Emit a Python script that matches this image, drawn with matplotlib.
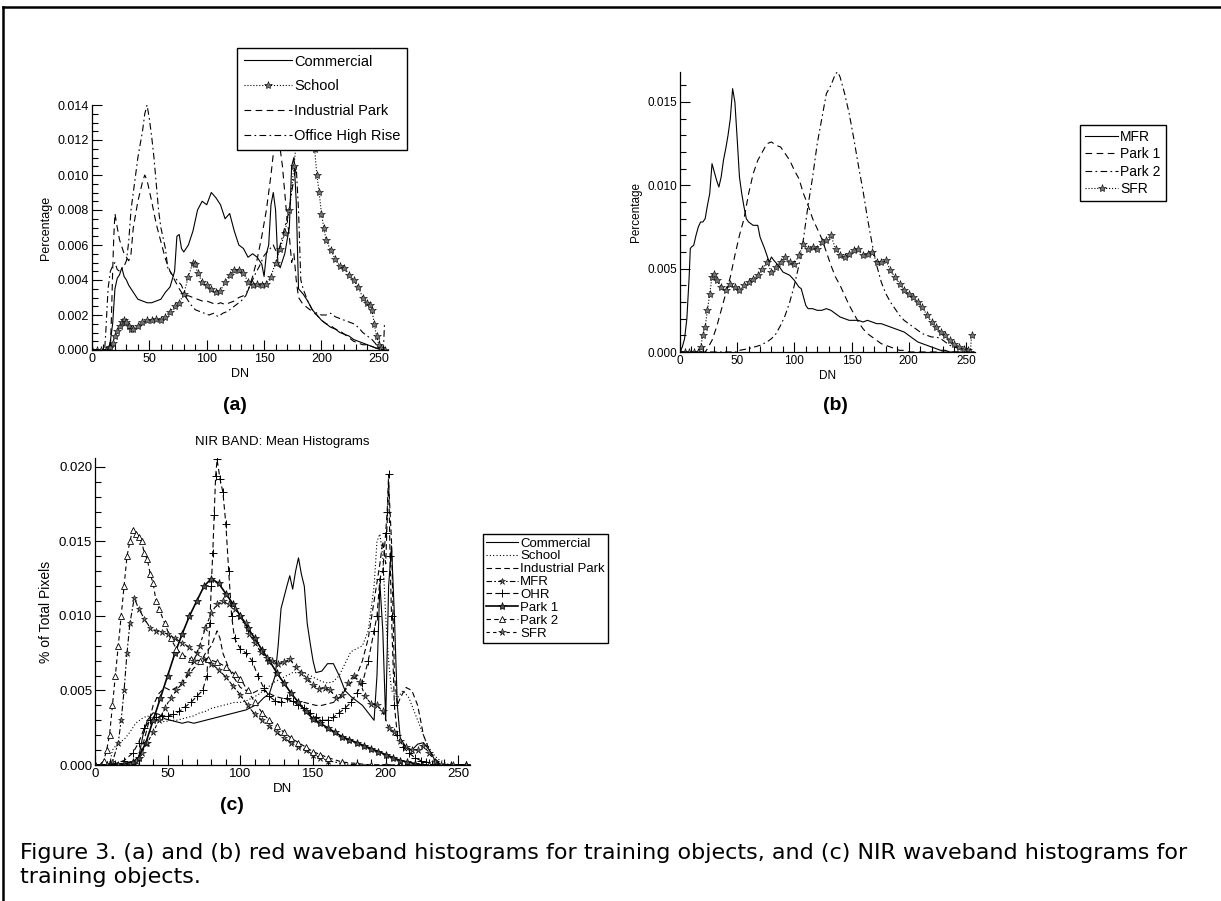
import numpy as np
import matplotlib.pyplot as plt
from matplotlib.lines import Line2D
from matplotlib.ticker import MultipleLocator, FormatStrFormatter

plt.rcParams['font.family'] = ['Liberation Sans', 'DejaVu Sans']

# values are (DN, percentage in units of 0.001)
SCALE = 1e-3

# ---- (a) red band
a_commercial = [(0, 0), (8, 0), (14, 0), (16, 0.5), (18, 1.5), (20, 3.5), (22, 4.1), (24, 4.3), (26, 4.7), (28, 4.2),
                (30, 4.0), (32, 3.7), (36, 3.3), (40, 2.9), (44, 2.8), (48, 2.7), (52, 2.7), (56, 2.8), (60, 2.9),
                (64, 3.3), (68, 3.6), (72, 4.5), (74, 6.5), (76, 6.6), (78, 5.8), (80, 5.6), (84, 6.0), (88, 6.8),
                (92, 8.0), (96, 8.5), (100, 8.3), (104, 9.0), (108, 8.7), (112, 8.3), (116, 7.5), (120, 7.8),
                (124, 6.8), (128, 6.0), (132, 5.8), (136, 5.3), (140, 5.5), (144, 5.3), (148, 4.9), (150, 4.2),
                (152, 5.5), (154, 6.0), (156, 8.3), (158, 9.0), (160, 8.0), (162, 5.0), (164, 4.7), (168, 5.5),
                (172, 7.0), (174, 10.5), (176, 11.0), (178, 8.5), (180, 3.5), (184, 3.2), (188, 2.8), (192, 2.3),
                (196, 2.0), (200, 1.7), (204, 1.5), (208, 1.3), (212, 1.2), (216, 1.0), (220, 0.9), (224, 0.8),
                (228, 0.6), (232, 0.5), (236, 0.4), (240, 0.3), (244, 0.2), (248, 0.1), (252, 0), (255, 0)]
a_school = [(0, 0), (4, 0), (8, 0), (12, 0), (15, 0.1), (16, 0.2), (18, 0.4), (20, 0.8), (22, 1.1), (24, 1.4),
            (26, 1.6), (28, 1.7), (30, 1.6), (32, 1.4), (34, 1.2), (36, 1.2), (40, 1.4), (44, 1.6), (48, 1.7),
            (52, 1.7), (56, 1.8), (60, 1.7), (64, 1.9), (68, 2.2), (72, 2.5), (76, 2.7), (80, 3.2), (84, 4.2),
            (88, 5.0), (90, 4.9), (92, 4.4), (96, 3.9), (100, 3.7), (104, 3.5), (108, 3.3), (112, 3.4), (116, 3.9),
            (120, 4.3), (124, 4.6), (128, 4.6), (132, 4.4), (136, 3.9), (140, 3.7), (144, 3.8), (148, 3.7),
            (152, 3.8), (156, 4.2), (160, 5.0), (164, 5.8), (168, 6.7), (172, 8.0), (176, 10.5), (178, 11.8),
            (180, 12.2), (184, 12.8), (186, 13.3), (188, 13.3), (190, 12.8), (192, 12.2), (194, 11.5), (196, 10.0),
            (198, 9.0), (200, 7.8), (202, 7.0), (204, 6.3), (208, 5.7), (212, 5.2), (216, 4.8), (220, 4.7),
            (224, 4.3), (228, 4.0), (232, 3.6), (236, 3.0), (240, 2.7), (242, 2.6), (244, 2.3), (246, 1.5),
            (248, 0.8), (250, 0.3), (252, 0.1), (255, 0)]
a_industrial = [(0, 0), (16, 0), (17, 2.0), (18, 4.5), (19, 6.5), (20, 7.8), (22, 7.0), (24, 6.3), (28, 5.5),
                (32, 5.1), (34, 5.5), (36, 7.0), (40, 8.5), (44, 9.6), (46, 10.0), (48, 9.7), (52, 8.5), (56, 7.2),
                (60, 6.2), (64, 5.2), (68, 4.5), (72, 4.0), (76, 3.5), (80, 3.1), (84, 3.1), (88, 3.0), (92, 2.9),
                (96, 2.8), (100, 2.8), (104, 2.7), (108, 2.6), (112, 2.7), (116, 2.6), (120, 2.7), (124, 2.8),
                (128, 3.0), (132, 3.1), (136, 3.4), (140, 4.2), (144, 5.2), (148, 6.5), (152, 8.0), (156, 10.0),
                (158, 11.2), (160, 11.9), (162, 12.0), (164, 11.5), (166, 10.5), (168, 9.0), (170, 7.5), (172, 6.5),
                (174, 5.0), (176, 5.5), (178, 4.0), (180, 3.0), (184, 2.6), (188, 2.4), (192, 2.2), (196, 2.0),
                (200, 1.7), (204, 1.5), (208, 1.4), (212, 1.2), (216, 1.1), (220, 0.9), (224, 0.7), (228, 0.5),
                (232, 0.4), (236, 0.3), (240, 0.3), (244, 0.2), (248, 0.1), (252, 0), (255, 0)]
a_office = [(0, 0), (11, 0), (12, 1.0), (14, 3.5), (16, 4.5), (18, 4.8), (20, 5.0), (22, 4.6), (24, 4.5), (28, 4.8),
            (30, 5.1), (32, 6.2), (34, 8.0), (36, 9.0), (40, 11.0), (44, 12.5), (46, 13.5), (48, 14.0), (50, 13.2),
            (52, 12.2), (54, 11.0), (56, 9.5), (58, 8.0), (60, 7.0), (64, 5.8), (66, 4.7), (70, 4.3), (74, 4.0),
            (78, 3.7), (82, 3.0), (86, 2.6), (90, 2.3), (94, 2.2), (98, 2.1), (102, 2.0), (106, 2.1), (110, 1.9),
            (114, 2.1), (118, 2.2), (122, 2.4), (126, 2.6), (130, 2.8), (134, 3.1), (138, 3.7), (142, 4.3),
            (146, 4.8), (150, 5.4), (154, 5.7), (158, 6.0), (160, 5.7), (162, 5.5), (166, 6.5), (170, 7.5),
            (172, 8.0), (174, 9.0), (176, 9.8), (178, 10.5), (180, 8.0), (182, 4.0), (184, 3.5), (188, 2.8),
            (192, 2.3), (196, 2.1), (200, 2.0), (204, 2.0), (208, 2.1), (212, 1.9), (216, 1.8), (220, 1.7),
            (224, 1.6), (228, 1.5), (232, 1.3), (236, 1.0), (240, 0.8), (244, 0.6), (248, 0.3), (250, 0.1),
            (252, 0), (254, 0), (255, 1.6)]

# ---- (b) red band
b_mfr = [(0, 0), (2, 0.3), (4, 0.8), (6, 2.0), (8, 4.5), (9, 6.2), (10, 6.3), (12, 6.4), (14, 7.0), (16, 7.5),
         (18, 7.8), (20, 7.8), (22, 8.0), (24, 8.8), (26, 9.5), (28, 11.3), (30, 10.8), (32, 10.3), (34, 9.9),
         (36, 10.5), (38, 11.5), (40, 12.2), (42, 13.0), (44, 14.0), (46, 15.8), (48, 15.0), (50, 12.8), (52, 10.5),
         (54, 9.5), (56, 8.7), (58, 8.0), (60, 7.8), (64, 7.6), (68, 7.6), (70, 6.9), (74, 6.2), (76, 5.8),
         (78, 5.4), (80, 5.7), (82, 5.5), (86, 5.2), (90, 4.8), (96, 4.6), (100, 4.3), (104, 3.9), (106, 3.8),
         (108, 3.3), (110, 2.8), (112, 2.6), (116, 2.6), (120, 2.5), (124, 2.5), (128, 2.6), (132, 2.5),
         (136, 2.3), (140, 2.1), (144, 2.0), (148, 1.9), (152, 1.9), (156, 1.9), (160, 1.8), (164, 1.9),
         (168, 1.8), (172, 1.7), (176, 1.7), (180, 1.6), (184, 1.5), (188, 1.4), (192, 1.3), (196, 1.2),
         (200, 1.0), (204, 0.8), (208, 0.6), (212, 0.5), (216, 0.4), (220, 0.3), (224, 0.2), (228, 0.1),
         (232, 0.1), (236, 0), (255, 0)]
b_park1 = [(0, 0), (22, 0), (24, 0.2), (28, 0.7), (32, 1.5), (36, 2.5), (40, 3.5), (44, 4.5), (48, 5.8),
           (52, 7.0), (54, 7.5), (56, 8.0), (60, 9.5), (64, 10.7), (68, 11.5), (72, 12.0), (76, 12.5), (80, 12.6),
           (84, 12.4), (88, 12.3), (92, 11.9), (96, 11.5), (100, 10.9), (104, 10.4), (108, 9.5), (112, 8.8),
           (116, 8.0), (120, 7.4), (124, 6.8), (128, 6.0), (132, 5.2), (136, 4.5), (140, 4.0), (144, 3.4),
           (148, 2.8), (152, 2.3), (156, 1.8), (160, 1.4), (164, 1.1), (168, 0.9), (172, 0.7), (176, 0.5),
           (180, 0.4), (184, 0.3), (188, 0.2), (192, 0.1), (196, 0.1), (200, 0), (255, 0)]
b_park2 = [(0, 0), (50, 0), (52, 0.1), (60, 0.2), (70, 0.4), (76, 0.6), (80, 0.8), (84, 1.1), (88, 1.6),
           (92, 2.2), (96, 3.0), (100, 4.0), (104, 5.2), (108, 6.8), (112, 8.8), (116, 10.5), (120, 12.5),
           (124, 14.0), (128, 15.5), (132, 16.0), (136, 16.7), (138, 16.8), (140, 16.5), (144, 15.5), (148, 14.3),
           (152, 12.8), (156, 11.2), (160, 9.7), (164, 8.0), (168, 6.5), (172, 5.2), (176, 4.2), (180, 3.5),
           (184, 3.0), (188, 2.6), (192, 2.2), (196, 1.9), (200, 1.7), (204, 1.5), (208, 1.3), (212, 1.1),
           (216, 1.0), (220, 0.9), (224, 0.9), (228, 0.8), (232, 0.6), (236, 0.4), (240, 0.3), (244, 0.2),
           (248, 0.1), (252, 0), (255, 0)]
b_sfr = [(0, 0), (4, 0), (8, 0), (12, 0), (16, 0), (18, 0.3), (20, 1.0), (22, 1.5), (24, 2.5), (26, 3.5), (28, 4.5),
         (30, 4.7), (32, 4.3), (36, 3.9), (40, 3.7), (44, 4.1), (48, 3.9), (52, 3.7), (56, 4.0), (60, 4.2),
         (64, 4.4), (68, 4.6), (72, 5.0), (76, 5.4), (80, 4.8), (84, 5.1), (88, 5.4), (92, 5.7), (96, 5.4),
         (100, 5.3), (104, 5.8), (108, 6.5), (112, 6.2), (116, 6.3), (120, 6.2), (124, 6.6), (128, 6.7),
         (132, 7.0), (136, 6.2), (140, 5.8), (144, 5.7), (148, 5.9), (152, 6.1), (156, 6.2), (160, 5.8),
         (164, 5.9), (168, 6.0), (172, 5.4), (176, 5.4), (180, 5.5), (184, 4.9), (188, 4.5), (192, 4.1),
         (196, 3.7), (200, 3.5), (204, 3.3), (208, 3.0), (212, 2.7), (216, 2.2), (220, 1.8), (224, 1.5),
         (228, 1.2), (232, 1.0), (236, 0.7), (240, 0.5), (244, 0.3), (248, 0.2), (252, 0.1), (254, 0), (255, 1.0)]

# ---- (c) NIR band
c_commercial = [(0, 0), (28, 0), (30, 0.5), (33, 2.0), (36, 3.0), (40, 3.5), (44, 3.4), (48, 3.1), (52, 3.0),
                (56, 2.9), (60, 2.8), (64, 2.9), (68, 2.8), (72, 2.9), (76, 3.0), (80, 3.1), (84, 3.2), (88, 3.3),
                (92, 3.4), (96, 3.5), (100, 3.6), (104, 3.7), (108, 3.9), (112, 4.1), (116, 4.5), (120, 4.8),
                (124, 6.0), (126, 8.0), (128, 10.5), (132, 12.0), (134, 12.7), (136, 11.8), (138, 13.0), (140, 13.9),
                (142, 12.8), (144, 12.0), (146, 9.5), (148, 8.2), (150, 7.0), (152, 6.2), (156, 6.3), (160, 6.8),
                (164, 6.8), (168, 6.0), (172, 5.0), (176, 4.6), (180, 4.3), (184, 4.0), (188, 3.5), (192, 3.0),
                (194, 6.0), (196, 12.2), (198, 9.0), (200, 3.0), (202, 12.0), (204, 14.7), (206, 10.0), (208, 4.0),
                (210, 1.8), (214, 1.2), (218, 1.0), (222, 1.4), (226, 1.5), (230, 1.0), (234, 0.3), (238, 0), (255, 0)]
c_school = [(0, 0), (10, 0), (12, 1.0), (16, 1.5), (20, 1.7), (24, 2.2), (28, 2.8), (32, 3.1), (36, 3.3), (40, 3.1),
            (44, 3.0), (48, 2.9), (52, 3.0), (56, 3.0), (60, 3.1), (64, 3.2), (68, 3.3), (72, 3.5), (76, 3.6),
            (80, 3.8), (84, 3.9), (88, 4.0), (92, 4.1), (96, 4.2), (100, 4.2), (104, 4.3), (108, 4.5), (112, 4.7),
            (116, 5.0), (120, 5.3), (124, 5.6), (128, 5.8), (132, 6.0), (136, 6.2), (140, 6.2), (144, 6.2),
            (148, 6.0), (152, 5.8), (156, 5.6), (160, 5.5), (164, 5.6), (168, 6.0), (172, 6.8), (176, 7.6),
            (180, 7.8), (184, 8.0), (188, 9.0), (192, 12.0), (194, 15.0), (196, 15.5), (198, 14.0), (200, 10.0),
            (202, 7.0), (204, 5.0), (208, 4.5), (212, 5.0), (216, 4.5), (220, 3.5), (224, 2.5), (228, 1.5),
            (232, 0.8), (236, 0.4), (240, 0.2), (244, 0), (255, 0)]
c_industrial = [(0, 0), (28, 0), (32, 1.0), (36, 2.5), (40, 4.0), (44, 4.8), (48, 5.2), (52, 5.0), (56, 5.2),
                (60, 5.5), (64, 6.0), (68, 6.5), (72, 6.8), (76, 7.5), (80, 8.0), (82, 8.5), (84, 9.0), (86, 8.5),
                (88, 7.5), (92, 6.5), (96, 5.8), (100, 5.2), (104, 5.0), (108, 4.8), (112, 5.0), (116, 5.0),
                (120, 4.8), (124, 4.6), (128, 4.5), (132, 4.4), (136, 4.3), (140, 4.2), (144, 4.2), (148, 4.1),
                (152, 4.0), (156, 4.0), (160, 4.1), (164, 4.2), (168, 4.5), (172, 5.0), (176, 5.5), (180, 6.0),
                (184, 7.0), (188, 8.5), (192, 11.0), (196, 13.5), (198, 15.0), (200, 13.5), (202, 19.0), (204, 15.0),
                (206, 6.0), (208, 4.0), (210, 4.5), (214, 5.2), (218, 5.0), (222, 4.0), (226, 2.0), (230, 1.0),
                (234, 0.4), (238, 0.1), (242, 0), (255, 0)]
c_mfr = [(0, 0), (4, 0), (8, 0), (12, 0.2), (16, 1.5), (18, 3.0), (20, 5.0), (22, 7.5), (24, 9.5), (27, 11.2),
         (30, 10.5), (34, 9.8), (38, 9.2), (42, 9.0), (46, 8.9), (50, 8.8), (55, 8.5), (60, 8.2), (65, 7.9),
         (70, 7.5), (75, 7.1), (80, 6.8), (85, 6.4), (90, 5.9), (95, 5.3), (100, 4.7), (105, 4.0), (110, 3.4),
         (115, 3.0), (120, 2.6), (125, 2.2), (130, 1.8), (135, 1.5), (140, 1.2), (145, 1.0), (150, 0.7),
         (155, 0.5), (160, 0.3), (170, 0.1), (180, 0), (200, 0), (220, 0), (240, 0), (255, 0)]
c_ohr = [(0, 0), (8, 0), (14, 0.1), (20, 0.3), (26, 0.8), (30, 1.5), (34, 2.5), (38, 3.0), (42, 3.2), (46, 3.3),
         (50, 3.3), (54, 3.4), (58, 3.6), (62, 3.9), (66, 4.2), (70, 4.6), (74, 5.0), (77, 6.0), (79, 9.5),
         (80, 12.0), (81, 14.2), (82, 16.8), (83, 19.4), (84, 20.5), (86, 19.2), (88, 18.3), (90, 16.2), (92, 13.0),
         (94, 10.0), (96, 8.5), (100, 7.8), (104, 7.5), (108, 7.0), (112, 6.0), (116, 5.2), (120, 4.6), (124, 4.3),
         (128, 4.2), (132, 4.5), (136, 4.3), (140, 4.0), (144, 3.8), (148, 3.5), (152, 3.2), (156, 3.0),
         (160, 3.0), (164, 3.2), (168, 3.5), (172, 3.8), (176, 4.2), (180, 4.8), (184, 5.5), (188, 7.0),
         (192, 9.0), (194, 10.0), (196, 12.5), (198, 13.0), (200, 15.6), (201, 17.0), (202, 19.5), (203, 14.0),
         (204, 10.0), (206, 4.0), (208, 2.0), (212, 1.2), (216, 0.8), (220, 0.5), (224, 0.3), (228, 0.2),
         (232, 0.1), (236, 0), (255, 0)]
c_park1 = [(0, 0), (10, 0), (20, 0.1), (26, 0.2), (30, 0.5), (35, 1.5), (40, 3.0), (45, 4.5), (50, 6.0),
           (55, 7.5), (60, 8.8), (65, 10.0), (70, 11.0), (75, 12.0), (80, 12.5), (85, 12.2), (90, 11.5), (95, 10.8),
           (100, 10.0), (105, 9.2), (110, 8.5), (115, 7.7), (120, 7.0), (125, 6.2), (130, 5.5), (135, 4.8),
           (140, 4.2), (145, 3.6), (150, 3.1), (155, 2.8), (160, 2.5), (165, 2.2), (170, 1.9), (175, 1.7),
           (180, 1.5), (185, 1.3), (190, 1.1), (195, 0.9), (200, 0.7), (205, 0.5), (210, 0.3), (215, 0.2),
           (220, 0.1), (225, 0), (235, 0), (245, 0), (255, 0)]
c_park2 = [(0, 0), (4, 0), (6, 0.3), (8, 1.0), (10, 2.0), (12, 4.0), (14, 6.0), (16, 8.0), (18, 10.0), (20, 12.0),
           (22, 14.0), (24, 15.0), (26, 15.8), (28, 15.5), (30, 15.3), (32, 15.0), (34, 14.2), (36, 13.8),
           (38, 12.8), (40, 12.2), (42, 11.0), (44, 10.5), (48, 9.5), (52, 8.5), (56, 7.8), (60, 7.4), (66, 7.1),
           (72, 7.0), (78, 7.1), (84, 6.9), (90, 6.6), (96, 6.1), (100, 5.8), (105, 5.0), (110, 4.2), (115, 3.5),
           (120, 3.0), (125, 2.6), (130, 2.2), (135, 1.8), (140, 1.5), (145, 1.2), (150, 0.9), (155, 0.7),
           (160, 0.5), (170, 0.2), (180, 0.1), (190, 0), (210, 0), (230, 0), (255, 0)]
c_sfr = [(0, 0), (8, 0), (16, 0), (24, 0), (28, 0.3), (32, 0.8), (36, 1.5), (40, 2.2), (44, 3.0), (48, 3.8),
         (52, 4.5), (56, 5.0), (60, 5.5), (64, 6.2), (68, 7.0), (72, 8.0), (76, 9.2), (80, 10.2), (84, 10.8),
         (88, 11.0), (92, 10.8), (96, 10.5), (100, 10.0), (104, 9.5), (106, 8.8), (110, 8.2), (114, 7.6),
         (118, 7.2), (122, 7.0), (126, 6.8), (130, 6.9), (134, 7.1), (138, 6.6), (142, 6.2), (146, 5.8),
         (150, 5.4), (154, 5.1), (158, 5.2), (162, 5.0), (166, 4.5), (170, 4.7), (174, 5.5), (178, 6.0),
         (182, 5.6), (186, 4.6), (190, 4.1), (194, 4.0), (198, 3.6), (202, 2.5), (206, 2.2), (210, 1.6),
         (214, 1.2), (218, 1.0), (222, 1.0), (226, 1.3), (230, 0.8), (234, 0.2), (238, 0), (246, 0), (255, 0)]

caption_lines = ["Figure 3. (a) and (b) red waveband histograms for training objects, and (c) NIR waveband histograms for",
                 "training objects."]

W, H = 1221, 901
fig = plt.figure(figsize=(W / 100, H / 100), dpi=100)


def box(l, t, r, b):
    return [l / W, 1 - b / H, (r - l) / W, (b - t) / H]


def draw(ax, data, label, **kw):
    d = np.array(data, dtype=float)
    opts = dict(color="k", lw=0.8)
    opts.update(kw)
    ax.plot(d[:, 0], d[:, 1] * SCALE, label=label, **opts)


def style(ax, ytop, ymaj, ymin, ts):
    ax.set_xlim(0, 258)
    ax.set_ylim(0, ytop)
    for s in ("top", "right"):
        ax.spines[s].set_visible(False)
    ax.spines["left"].set_linewidth(0.9)
    ax.spines["bottom"].set_linewidth(0.9)
    ax.xaxis.set_major_locator(MultipleLocator(50))
    ax.xaxis.set_minor_locator(MultipleLocator(10))
    ax.yaxis.set_major_locator(MultipleLocator(ymaj))
    ax.yaxis.set_minor_locator(MultipleLocator(ymin))
    ax.yaxis.set_major_formatter(FormatStrFormatter("%.3f"))
    ax.tick_params(which="both", direction="in", labelsize=ts, width=0.8, pad=2)
    ax.tick_params(which="major", length=7)
    ax.tick_params(which="minor", length=4)
    ax.set_xlabel("DN", fontsize=ts, labelpad=2)


def legend(ax, x, y, size, **kw):
    opts = dict(loc="upper left", bbox_to_anchor=(x / W, 1 - y / H), bbox_transform=fig.transFigure,
                fontsize=size, frameon=True, fancybox=False, edgecolor="k",
                framealpha=1, borderaxespad=0)
    opts.update(kw)
    leg = ax.legend(**opts)
    leg.get_frame().set_linewidth(1.0)


star = dict(marker="*", ms=6, mfc="0.45", mec="k", mew=0.4)

# (a)
ax_a = fig.add_axes(box(92, 105, 388, 350))
draw(ax_a, a_commercial, "Commercial", ls="-")
draw(ax_a, a_school, "School", ls=":", **star)
draw(ax_a, a_industrial, "Industrial Park", ls=(0, (6, 4)))
draw(ax_a, a_office, "Office High Rise", ls=(0, (6, 3, 1.5, 3)))
style(ax_a, 0.014, 0.002, 0.0005, 9)
ax_a.set_ylabel("Percentage", fontsize=9)
legend(ax_a, 237, 48, 10.5, handlelength=3.3, handletextpad=0.15, labelspacing=0.75, borderpad=0.45)
fig.text(235 / W, 1 - 405 / H, "(a)", fontsize=14, fontweight="bold", ha="center", va="center")

# (b)
ax_b = fig.add_axes(box(680, 72, 975, 352))
draw(ax_b, b_mfr, "MFR", ls="-")
draw(ax_b, b_park1, "Park 1", ls=(0, (6, 4)))
draw(ax_b, b_park2, "Park 2", ls=(0, (6, 3, 1.5, 3)))
draw(ax_b, b_sfr, "SFR", ls=":", **star)
style(ax_b, 0.0168, 0.005, 0.001, 8.5)
ax_b.set_ylabel("Percentage", fontsize=8.5)
legend(ax_b, 1080, 125, 10, handlelength=2.4, handletextpad=0.15, labelspacing=0.25, borderpad=0.35)
fig.text(835 / W, 1 - 405 / H, "(b)", fontsize=14, fontweight="bold", ha="center", va="center")

# (c)
ax_c = fig.add_axes(box(95, 458, 470, 765))
draw(ax_c, c_commercial, "Commercial", ls="-")
draw(ax_c, c_school, "School", ls=(0, (1, 2)))
draw(ax_c, c_industrial, "Industrial Park", ls=(0, (5, 3)))
draw(ax_c, c_mfr, "MFR", ls=(0, (5, 2, 1.5, 2)), marker="*", ms=5, mfc="0.45", mec="k", mew=0.4)
draw(ax_c, c_ohr, "OHR", ls=(0, (5, 3)), marker="+", ms=6, mew=0.7)
draw(ax_c, c_park1, "Park 1", ls="-", lw=1.2, marker="*", ms=6, mfc="0.3", mec="k", mew=0.5)
draw(ax_c, c_park2, "Park 2", ls=(0, (4, 3)), marker="^", ms=4.5, mfc="white", mec="k", mew=0.6)
draw(ax_c, c_sfr, "SFR", ls=(0, (3, 3)), marker="*", ms=5.5, mfc="0.45", mec="k", mew=0.4)
style(ax_c, 0.0206, 0.005, 0.001, 9.5)
ax_c.set_ylabel("% of Total Pixels", fontsize=10)
ax_c.set_title("NIR BAND: Mean Histograms", fontsize=9.5, pad=9)
legend(ax_c, 483, 534, 9.5, handlelength=2.4, handletextpad=0.15, labelspacing=0.05, borderpad=0.25)
fig.text(232 / W, 1 - 805 / H, "(c)", fontsize=14, fontweight="bold", ha="center", va="center")

# caption and page frame
fig.text(20 / W, 1 - 853 / H, caption_lines[0], fontsize=16, family="DejaVu Sans", ha="left", va="center")
fig.text(20 / W, 1 - 877 / H, caption_lines[1], fontsize=16, family="DejaVu Sans", ha="left", va="center")
fig.add_artist(Line2D([3 / W, 1], [1 - 7 / H, 1 - 7 / H], transform=fig.transFigure, color="k", lw=1.8))
fig.add_artist(Line2D([3 / W, 3 / W], [0, 1 - 7 / H], transform=fig.transFigure, color="k", lw=1.8))

fig.savefig("out.png", dpi=100)
